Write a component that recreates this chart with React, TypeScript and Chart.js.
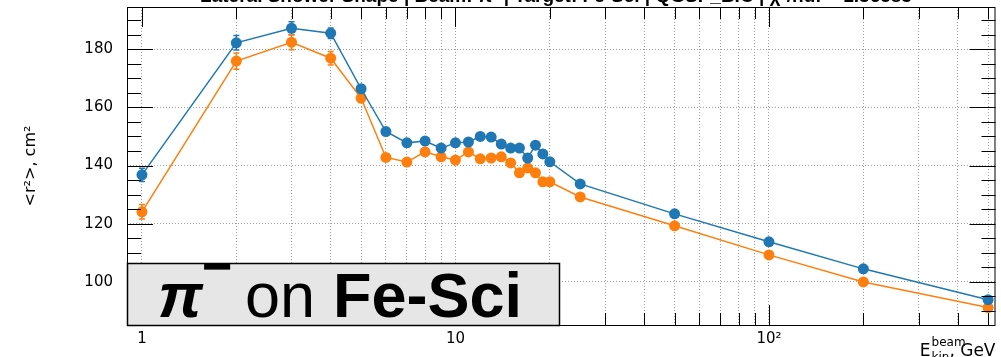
import { useEffect, useRef } from "react";
import { Chart, registerables } from "chart.js";

Chart.register(...registerables);

// Beam kinetic energies, GeV
const energies = [1, 2, 3, 4, 5, 6, 7, 8, 9, 10, 11, 12, 13, 14, 15, 16, 17, 18, 19, 20, 25, 50, 100, 200, 500];

// Mean squared shower radius <r^2>, cm^2
const upperValues = [136.8, 182.2, 187.2, 185.5, 166.4, 151.7, 147.8, 148.4, 146.0, 147.8, 148.1, 150.0, 149.8, 147.4, 146.0, 146.0, 142.6, 147.0, 144.0, 141.3, 133.7, 123.4, 113.8, 104.5, 93.9];
const upperErrors = [2.3, 2.5, 2.2, 1.8, 1.3, 1.0, 0.8, 0.8, 0.8, 0.8, 0.8, 0.8, 0.8, 0.8, 0.8, 0.8, 0.8, 0.8, 0.8, 0.8, 0.6, 0.5, 0.5, 0.5, 0.5];
const lowerValues = [124.1, 175.9, 182.4, 176.9, 163.2, 142.8, 141.2, 144.7, 143.0, 141.9, 144.7, 142.3, 142.6, 143.0, 140.9, 137.5, 139.2, 137.5, 134.4, 134.4, 129.2, 119.3, 109.3, 100.0, 91.2];
const lowerErrors = [2.5, 2.8, 2.6, 2.3, 1.5, 1.0, 0.8, 0.8, 0.8, 0.8, 0.8, 0.8, 0.8, 0.8, 0.8, 0.8, 0.8, 0.8, 0.8, 0.8, 0.6, 0.5, 0.5, 0.5, 0.5];

// Axis ticks
const xGridValues = [1, 2, 3, 4, 5, 6, 7, 8, 9, 10, 20, 30, 40, 50, 60, 70, 80, 90, 100, 200, 300, 400, 500];
const xMajorValues = [1, 10, 100];
const xTickLabels: Record<number, string> = { 1: "1", 10: "10", 100: "10²" };
const yMajorValues = [100, 120, 140, 160, 180];
const yMinorValues = [90, 95, 105, 110, 115, 125, 130, 135, 145, 150, 155, 165, 170, 175, 185, 190];

const X_MIN = 0.896;
const X_MAX = 528;
const Y_MIN = 85.2;
const Y_MAX = 194.5;

const BLUE = "#1f77b4";
const ORANGE = "#ff7f0e";

const TITLE_TEXT = "Lateral Shower Shape | Beam: π⁻ | Target: Fe-Sci | QGSP_BIC | χ²/ndf = 1.36583";

const errorBarsPlugin = {
  id: "errorBars",
  beforeDatasetsDraw(chart: any) {
    const { ctx, scales } = chart;
    const x = scales.x;
    const y = scales.y;
    chart.data.datasets.forEach((ds: any) => {
      ctx.save();
      ctx.strokeStyle = ds.borderColor;
      ctx.lineWidth = 1.5;
      ds.data.forEach((p: any) => {
        const px = x.getPixelForValue(p.x);
        const y1 = y.getPixelForValue(p.y + p.err);
        const y2 = y.getPixelForValue(p.y - p.err);
        ctx.beginPath();
        ctx.moveTo(px, y1);
        ctx.lineTo(px, y2);
        ctx.moveTo(px - 3, y1);
        ctx.lineTo(px + 3, y1);
        ctx.moveTo(px - 3, y2);
        ctx.lineTo(px + 3, y2);
        ctx.stroke();
      });
      ctx.restore();
    });
  },
};

const decorPlugin = {
  id: "decor",
  afterDraw(chart: any) {
    const { ctx, chartArea, scales } = chart;
    const { left, right, top, bottom } = chartArea;
    const x = scales.x;
    const y = scales.y;
    ctx.save();
    ctx.strokeStyle = "#000";
    ctx.lineWidth = 1;

    // tick marks on all four sides of the frame
    ctx.beginPath();
    const yTicks = [...yMajorValues.map((v) => [v, 26]), ...yMinorValues.map((v) => [v, 14])];
    yTicks.forEach(([v, len]) => {
      const py = Math.round(y.getPixelForValue(v)) + 0.5;
      if (py < top || py > bottom) return;
      ctx.moveTo(left, py);
      ctx.lineTo(left + len, py);
      ctx.moveTo(right, py);
      ctx.lineTo(right - len, py);
    });
    xGridValues.forEach((v) => {
      const len = xMajorValues.includes(v) ? 20 : 12;
      const px = Math.round(x.getPixelForValue(v)) + 0.5;
      ctx.moveTo(px, top);
      ctx.lineTo(px, top + len);
      ctx.moveTo(px, bottom);
      ctx.lineTo(px, bottom - len);
    });
    ctx.stroke();

    ctx.strokeRect(left + 0.5, top + 0.5, right - left - 1, bottom - top);

    // label box in the lower left corner
    const boxW = 432;
    const boxH = 62;
    ctx.fillStyle = "#e6e6e6";
    ctx.fillRect(left, bottom - boxH, boxW, boxH + 1);
    ctx.lineWidth = 1.5;
    ctx.strokeRect(left + 0.5, bottom - boxH + 0.5, boxW, boxH);
    ctx.fillStyle = "#000";
    ctx.textBaseline = "alphabetic";
    ctx.textAlign = "left";
    const base = bottom - 8;
    ctx.font = 'italic bold 63px "Liberation Sans"';
    ctx.fillText("π", left + 31, base);
    ctx.font = 'bold 52px "Liberation Sans"';
    ctx.fillText("−", left + 75, base - 33);
    ctx.font = '63px "Liberation Sans"';
    ctx.fillText("on", left + 118, base);
    ctx.font = 'bold 63px "Liberation Sans"';
    ctx.fillText("Fe-Sci", left + 206, base);

    // x axis title with super- and subscript
    const mainFont = '17px "DejaVu Sans"';
    const smallFont = '12px "DejaVu Sans"';
    ctx.font = mainFont;
    const wE = ctx.measureText("E").width;
    const wTail = ctx.measureText(", GeV").width;
    ctx.font = smallFont;
    const wKin = ctx.measureText("kin").width;
    const x0 = right - wTail - wKin - wE - 1;
    const yBase = 356;
    ctx.font = mainFont;
    ctx.fillText("E", x0, yBase);
    ctx.fillText(", GeV", x0 + wE + wKin + 1, yBase);
    ctx.font = smallFont;
    ctx.fillText("beam", x0 + wE + 1, yBase - 10);
    ctx.fillText("kin", x0 + wE + 1, yBase + 5);

    // main title, mostly above the top edge
    ctx.font = 'bold 19px "Liberation Sans"';
    ctx.textAlign = "center";
    ctx.fillText(TITLE_TEXT, 556, 1.5);
    ctx.restore();
  },
};

export default function App() {
  const canvasRef = useRef<HTMLCanvasElement | null>(null);

  useEffect(() => {
    const canvas = canvasRef.current;
    if (!canvas) return;

    const upperData = energies.map((e, i) => ({ x: e, y: upperValues[i], err: upperErrors[i] }));
    const lowerData = energies.map((e, i) => ({ x: e, y: lowerValues[i], err: lowerErrors[i] }));

    const zeroPadding = (scale: any) => {
      scale.paddingTop = 0;
      scale.paddingBottom = 0;
      scale.paddingLeft = 0;
      scale.paddingRight = 0;
    };

    const chart = new Chart(canvas, {
      type: "line",
      data: {
        datasets: [
          {
            label: "upper",
            data: upperData as any,
            borderColor: BLUE,
            backgroundColor: BLUE,
            borderWidth: 1.5,
            pointRadius: 5.5,
            pointBorderWidth: 0,
            pointBackgroundColor: BLUE,
            tension: 0,
          },
          {
            label: "lower",
            data: lowerData as any,
            borderColor: ORANGE,
            backgroundColor: ORANGE,
            borderWidth: 1.5,
            pointRadius: 5.5,
            pointBorderWidth: 0,
            pointBackgroundColor: ORANGE,
            tension: 0,
          },
        ],
      },
      options: {
        animation: false,
        responsive: false,
        devicePixelRatio: 1,
        layout: { padding: { left: 0, top: 7, right: 4, bottom: 0 } },
        plugins: {
          legend: { display: false },
          tooltip: { enabled: false },
          title: { display: false },
        },
        scales: {
          x: {
            type: "logarithmic",
            min: X_MIN,
            max: X_MAX,
            afterBuildTicks: (scale: any) => {
              scale.ticks = xGridValues.map((v) => ({ value: v }));
            },
            afterFit: (scale: any) => {
              scale.height = 32;
              zeroPadding(scale);
            },
            grid: {
              color: "#a0a0a0",
              lineWidth: 1,
              drawTicks: false,
            },
            border: { display: false, dash: [1, 2] },
            ticks: {
              autoSkip: false,
              maxRotation: 0,
              padding: 5,
              color: "#000",
              font: { family: "DejaVu Sans", size: 15 },
              callback: (value: any) => xTickLabels[Number(value)] ?? "",
            },
          },
          y: {
            type: "linear",
            min: Y_MIN,
            max: Y_MAX,
            afterBuildTicks: (scale: any) => {
              scale.ticks = yMajorValues.map((v) => ({ value: v }));
            },
            afterFit: (scale: any) => {
              scale.width = 127;
              zeroPadding(scale);
            },
            grid: {
              color: "#a0a0a0",
              lineWidth: 1,
              drawTicks: false,
            },
            border: { display: false, dash: [1, 2] },
            ticks: {
              padding: 14,
              color: "#000",
              font: { family: "DejaVu Sans", size: 15 },
              callback: (value: any) => String(value),
            },
            title: {
              display: true,
              text: "<r²>, cm²",
              color: "#000",
              font: { family: "DejaVu Sans", size: 16 },
              padding: { top: 21, bottom: 0 },
            },
          },
        },
      },
      plugins: [errorBarsPlugin, decorPlugin],
    });

    return () => chart.destroy();
  }, []);

  return (
    <div style={{ position: "fixed", left: 0, top: 0, width: 1001, height: 357, background: "#fff" }}>
      <canvas ref={canvasRef} width={1001} height={357} style={{ display: "block" }} />
    </div>
  );
}
